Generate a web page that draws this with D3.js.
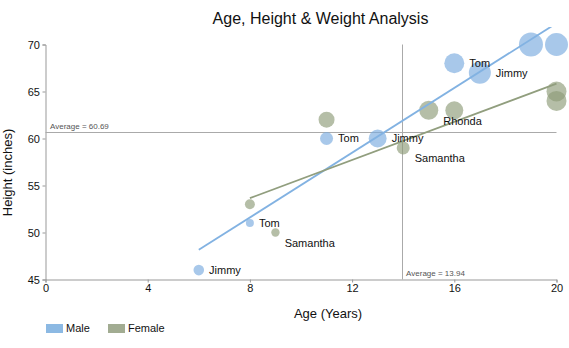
<!DOCTYPE html>
<html>
<head>
<meta charset="utf-8">
<script src="https://cdn.jsdelivr.net/npm/d3@7"></script>
<style>
  html, body { margin: 0; padding: 0; background: #fff; }
  svg { display: block; font-family: "Liberation Sans", Arial, sans-serif; }
</style>
</head>
<body>
<svg id="chart" width="569" height="348"></svg>
<script>
// ---- data ----
const seriesNames = ["Male", "Female"];
const maleAges    = [6, 8, 11, 13, 16, 17, 19, 20];
const maleHeights = [46, 51, 60, 60, 68, 67, 70, 70];
const maleWeights = [35, 20, 53, 101, 125, 151, 180, 165];
const maleLabels  = ["Jimmy", "Tom", "Tom", "Jimmy", "Tom", "Jimmy", "", ""];
const femaleAges    = [8, 9, 11, 14, 15, 16, 20, 20];
const femaleHeights = [53, 50, 62, 59, 63, 63, 65, 64];
const femaleWeights = [31, 22, 80, 53, 113, 101, 125, 125];
const femaleLabels  = ["", "Samantha", "", "Samantha", "Rhonda", "", "", ""];
const xTicks = [0, 4, 8, 12, 16, 20];
const yTicks = [45, 50, 55, 60, 65, 70];

const colors = { Male: "#79abdf", Female: "#8e9b78" };
const lineColors = { Male: "#82b2e2", Female: "#919e7e" };
const legendColors = { Male: "#8cb9e3", Female: "#a2ac92" };

function build(name, ages, heights, weights, labels) {
  return ages.map((a, i) => ({ series: name, age: a, height: heights[i], weight: weights[i], label: labels[i] }));
}
const male = build("Male", maleAges, maleHeights, maleWeights, maleLabels);
const female = build("Female", femaleAges, femaleHeights, femaleWeights, femaleLabels);
const all = male.concat(female);

const svg = d3.select("#chart");
const x = d3.scaleLinear().domain([0, 20]).range([45.5, 556.5]);
const y = d3.scaleLinear().domain([45, 70]).range([279.5, 44.5]);
const r = d3.scaleSqrt().domain([0, 180]).range([0, 12]);

// title
svg.append("text").attr("x", 320.5).attr("y", 24.3).attr("text-anchor", "middle")
  .attr("font-size", 16).attr("fill", "#111").text("Age, Height & Weight Analysis");

// axes
const yAxis = svg.append("g").attr("transform", "translate(45.5,0)")
  .call(d3.axisLeft(y).tickValues(yTicks).tickSize(3).tickPadding(2.5).tickFormat(d3.format("d")));
const xAxis = svg.append("g").attr("transform", "translate(0,279.5)")
  .call(d3.axisBottom(x).tickValues(xTicks).tickSize(3).tickPadding(1.5).tickFormat(d3.format("d")));
[xAxis, yAxis].forEach(g => {
  g.select(".domain").attr("stroke", "#999");
  g.selectAll(".tick line").attr("stroke", "#999");
  g.selectAll(".tick text").attr("font-size", 11).attr("fill", "#111")
    .attr("font-family", "'Liberation Sans', Arial, sans-serif");
});

// axis titles
svg.append("text").attr("x", 328).attr("y", 317.5).attr("text-anchor", "middle")
  .attr("font-size", 13).attr("fill", "#111").text("Age (Years)");
svg.append("text").attr("transform", "translate(11.5,172.5) rotate(-90)").attr("text-anchor", "middle")
  .attr("font-size", 13).attr("fill", "#111").text("Height (inches)");

// averages
const avgH = d3.mean(all, d => d.height);
const avgA = d3.mean(all, d => d.age);
svg.append("line").attr("x1", x(0)).attr("x2", x(20)).attr("y1", Math.round(y(avgH)) + 0.5).attr("y2", Math.round(y(avgH)) + 0.5)
  .attr("stroke", "#aaa").attr("stroke-width", 1);
svg.append("line").attr("x1", Math.round(x(avgA)) + 0.5).attr("x2", Math.round(x(avgA)) + 0.5).attr("y1", y(70)).attr("y2", y(45))
  .attr("stroke", "#aaa").attr("stroke-width", 1);
svg.append("text").attr("x", 50).attr("y", y(avgH) - 3.5).attr("font-size", 8).attr("fill", "#555")
  .text("Average = " + avgH.toFixed(2));
svg.append("text").attr("x", x(avgA) + 4.5).attr("y", 276).attr("font-size", 8).attr("fill", "#555")
  .text("Average = " + avgA.toFixed(2));

// clip for regression lines
svg.append("clipPath").attr("id", "clip").append("rect")
  .attr("x", 0).attr("y", 27).attr("width", 569).attr("height", 300);

// points
const groups = [male, female];
groups.forEach(data => {
  svg.append("g").selectAll("circle").data(data).join("circle")
    .attr("cx", d => x(d.age)).attr("cy", d => y(d.height)).attr("r", d => r(d.weight))
    .attr("fill", d => colors[d.series]).attr("fill-opacity", 0.65);
});

// regression lines
groups.forEach(data => {
  const mx = d3.mean(data, d => d.age), my = d3.mean(data, d => d.height);
  const sxy = d3.sum(data, d => (d.age - mx) * (d.height - my));
  const sxx = d3.sum(data, d => (d.age - mx) ** 2);
  const b = sxy / sxx, a = my - b * mx;
  const [x0, x1] = d3.extent(data, d => d.age);
  svg.append("line").attr("clip-path", "url(#clip)")
    .attr("x1", x(x0)).attr("y1", y(a + b * x0)).attr("x2", x(x1)).attr("y2", y(a + b * x1))
    .attr("stroke", lineColors[data[0].series]).attr("stroke-width", 1.8);
});

// point labels
groups.forEach(data => {
  svg.append("g").selectAll("text").data(data.filter(d => d.label)).join("text")
    .attr("x", d => x(d.age) + r(d.weight) + 5)
    .attr("y", d => y(d.height) + (d.series === "Female" ? 10.5 : 0))
    .attr("dy", "0.35em").attr("font-size", 11).attr("fill", "#111").text(d => d.label);
});

// legend
const legX = [46, 108];
seriesNames.forEach((s, i) => {
  svg.append("rect").attr("x", legX[i]).attr("y", 324).attr("width", 17).attr("height", 9)
    .attr("fill", legendColors[s]);
  svg.append("text").attr("x", legX[i] + 20).attr("y", 328.5).attr("dy", "0.35em")
    .attr("font-size", 11).attr("fill", "#111").text(s);
});
</script>
</body>
</html>
